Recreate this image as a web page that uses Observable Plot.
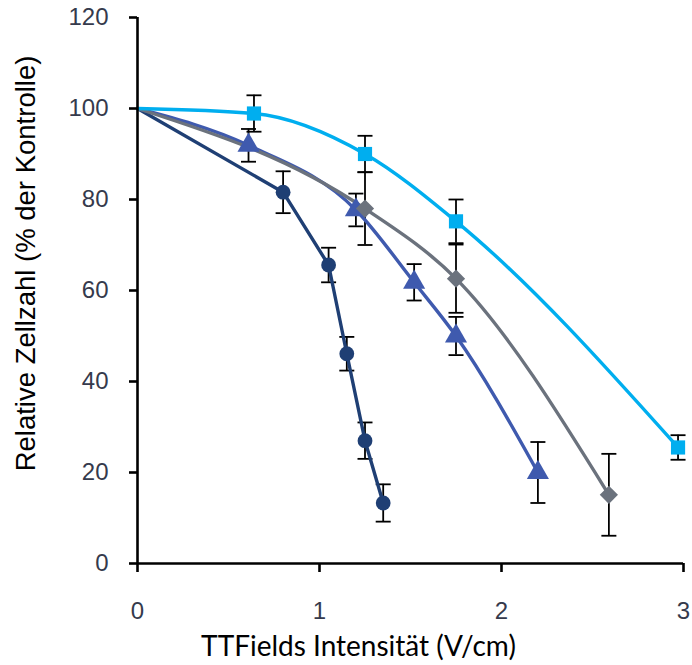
<!DOCTYPE html>
<html>
<head>
<meta charset="utf-8">
<script src="https://cdn.jsdelivr.net/npm/d3@7"></script>
<script src="https://cdn.jsdelivr.net/npm/@observablehq/plot@0.6"></script>
<style>
  html, body { margin: 0; padding: 0; background: #fff; }
</style>
</head>
<body>
<div id="chart"></div>
<script>
// Series: dark navy circles
const navyX = [0, 0.80, 1.05, 1.15, 1.25, 1.35];
const navyY = [100, 81.6, 65.6, 46.1, 27.0, 13.3];
const navyErr = [0, 4.6, 3.8, 3.7, 4.0, 4.1];
// Series: blue triangles
const triX = [0, 0.61, 1.20, 1.52, 1.75, 2.20];
const triY = [100, 91.9, 77.7, 61.8, 50.0, 20.0];
const triErr = [0, 3.6, 3.6, 4.0, 4.2, 6.7];
// Series: gray diamonds
const grayX = [0, 1.25, 1.75, 2.59];
const grayY = [100, 78.0, 62.6, 15.1];
const grayErr = [0, 8.0, 7.5, 9.0];
// Series: light blue squares
const sqX = [0, 0.64, 1.25, 1.75, 2.97];
const sqY = [100, 98.9, 90.0, 75.2, 25.5];
const sqErr = [0, 4.0, 4.0, 4.8, 2.7];

const xTicks = [0, 1, 2, 3];
const yTicks = [0, 20, 40, 60, 80, 100, 120];

const series = [
  {name: "navy", xs: navyX, ys: navyY, es: navyErr, color: "#1f3f74", symbol: "circle", r: 7.4, curve: "linear"},
  {name: "tri", xs: triX, ys: triY, es: triErr, color: "#3f5aae", symbol: "triangle", r: 8.2, curve: "monotone-x"},
  {name: "gray", xs: grayX, ys: grayY, es: grayErr, color: "#6b727d", symbol: "diamond2", r: 8.2, curve: "monotone-x"},
  {name: "sq", xs: sqX, ys: sqY, es: sqErr, color: "#00aeef", symbol: "square", r: 8.0, curve: "monotone-x"}
];

const rows = series.flatMap(s => s.xs.map((x, i) => ({series: s.name, x, y: s.ys[i], e: s.es[i]})));
const markers = rows.filter(d => d.x > 0);
const errs = markers.filter(d => d.e > 0);

const capSymbol = {draw(ctx) { ctx.moveTo(-7.5, 0); ctx.lineTo(7.5, 0); }};

const marks = [
  Plot.ruleX(errs, {x: "x", y1: d => d.y - d.e, y2: d => d.y + d.e, stroke: "#000", strokeWidth: 1.8}),
  Plot.dot(errs, {x: "x", y: d => d.y + d.e, symbol: capSymbol, stroke: "#000", strokeWidth: 1.8, fill: "none", r: 5}),
  Plot.dot(errs, {x: "x", y: d => d.y - d.e, symbol: capSymbol, stroke: "#000", strokeWidth: 1.8, fill: "none", r: 5}),
];
for (const s of series) {
  const data = rows.filter(d => d.series === s.name);
  marks.push(Plot.line(data, {x: "x", y: "y", stroke: s.color, strokeWidth: 3.4, curve: s.curve}));
}
for (const s of series) {
  const data = markers.filter(d => d.series === s.name);
  marks.push(Plot.dot(data, {x: "x", y: "y", symbol: s.symbol, fill: s.color, stroke: "none", r: s.r}));
}
marks.push(
  Plot.ruleY([0], {stroke: "#000", strokeWidth: 2.6}),
  Plot.ruleX([0], {stroke: "#000", strokeWidth: 2.6}),
  Plot.axisY({ticks: yTicks, tickSize: 8, tickPadding: 21, tickFormat: d => String(d), strokeWidth: 2.6, stroke: "#000",
    fontSize: 24, fill: "#353a4c", label: "Relative Zellzahl (% der Kontrolle)", labelAnchor: "center", labelArrow: "none", labelOffset: 122}),
  Plot.axisX({ticks: xTicks, tickSize: 9, tickPadding: 29, tickFormat: d => String(d), strokeWidth: 2.6, stroke: "#000",
    fontSize: 24, fill: "#353a4c", label: "TTFields Intensität (V/cm)", labelAnchor: "center", labelArrow: "none", labelOffset: 92})
);

const chart = Plot.plot({
  width: 692,
  height: 665,
  marginLeft: 137,
  marginRight: 9,
  marginTop: 17,
  marginBottom: 102,
  style: {fontFamily: "'Liberation Sans', Arial, sans-serif", background: "#fff", overflow: "visible"},
  x: {domain: [0, 3]},
  y: {domain: [0, 120]},
  marks
});
document.getElementById("chart").appendChild(chart);

const svg = d3.select(chart);
// axis titles
svg.selectAll('[aria-label="y-axis label"] text')
  .style("font-size", "27.5px").style("fill", "#000")
  .attr("transform", function() { return "translate(0,-27) " + (this.getAttribute("transform") || ""); });
svg.selectAll('[aria-label="x-axis label"] text')
  .style("font-size", "28px").style("fill", "#000").style("font-family", "Lato, 'Open Sans', sans-serif")
  .attr("transform", function() { return "translate(-52,0) " + (this.getAttribute("transform") || ""); });
</script>
</body>
</html>
